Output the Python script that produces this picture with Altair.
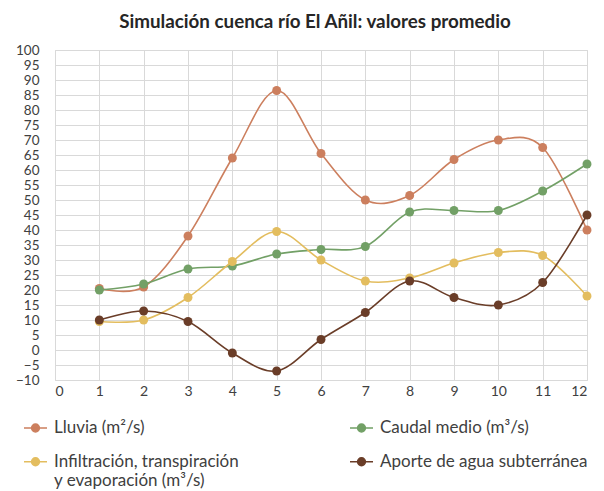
import altair as alt
import pandas as pd

months = [1, 2, 3, 4, 5, 6, 7, 8, 9, 10, 11, 12]
series_names = [
    "Lluvia (m²/s)",
    "Infiltración, transpiración|y evaporación (m³/s)",
    "Caudal medio (m³/s)",
    "Aporte de agua subterránea",
]
lluvia = [20.5, 21, 38, 64, 86.5, 65.5, 50, 51.5, 63.5, 70, 67.5, 40]
caudal = [20, 22, 27, 28, 32, 33.5, 34.5, 46, 46.5, 46.5, 53, 62]
infil = [9.5, 10, 17.5, 29.5, 39.5, 30, 23, 24, 29, 32.5, 31.5, 18]
aporte = [10, 13, 9.5, -1, -7, 3.5, 12.5, 23, 17.5, 15, 22.5, 45]
colors = ["#CC7F5E", "#E3BD5F", "#72A066", "#6A3D28"]

# drawing order: Lluvia, Caudal, Infiltración, Aporte
draw_order = [0, 2, 1, 3]
values = [lluvia, infil, caudal, aporte]

rows = []
for i, (name, vals) in enumerate(zip(series_names, values)):
    for m, v in zip(months, vals):
        rows.append({"mes": m, "valor": v, "serie": name})
df = pd.DataFrame(rows)

FONT = "Lato"
# line with a dot, shifted down to sit on the first text line (labels use top baseline)
sym = "M-1,0.72L1,0.72M0.34,0.72A0.34,0.34,0,1,1,-0.34,0.72A0.34,0.34,0,1,1,0.34,0.72Z"

color = alt.Color(
    "serie:N",
    scale=alt.Scale(domain=series_names, range=colors),
    legend=alt.Legend(
        title=None,
        orient="none",
        legendX=-32,
        legendY=357,
        columns=2,
        columnPadding=108,
        rowPadding=5,
        symbolType=sym,
        symbolSize=529,
        symbolStrokeWidth=1.5,
        labelFont=FONT,
        labelFontSize=17,
        labelBaseline="top",
        labelColor="#404040",
        labelOffset=6,
        labelLimit=300,
        labelExpr="indexof(datum.label, '|') >= 0 ? split(datum.label, '|') : datum.label",
    ),
)

x = alt.X(
    "mes:Q",
    scale=alt.Scale(domain=[0, 12], nice=False),
    axis=alt.Axis(values=list(range(0, 13)), title=None, labelPadding=4, labelOverlap=False),
)
y = alt.Y(
    "valor:Q",
    scale=alt.Scale(domain=[-10, 100], nice=False),
    axis=alt.Axis(values=list(range(-10, 101, 5)), title=None, labelPadding=16,
                  labelOverlap=False, labelFontSize=13.5),
)

layers = []
for i in draw_order:
    name = series_names[i]
    sub = df[df["serie"] == name]
    c = alt.Chart(sub).encode(x=x, y=y, color=color)
    layers.append(c.mark_line(interpolate="cardinal", strokeWidth=1.6))
    layers.append(c.mark_circle(size=80, opacity=1))

chart = alt.layer(*layers).properties(
    width=532,
    height=330,
    title=alt.TitleParams(
        "Simulación cuenca río El Añil: valores promedio",
        font=FONT,
        fontSize=18.8,
        fontWeight="bold",
        color="#262626",
        anchor="middle",
        offset=11,
        dx=-6,
    ),
    autosize=alt.AutoSizeParams(type="none"),
    padding={"left": 47, "top": 42, "right": 9, "bottom": 110},
).configure_axis(
    domain=False,
    ticks=False,
    grid=True,
    gridColor="#D9D9D9",
    gridWidth=1,
    labelFont=FONT,
    labelFontSize=14,
    labelColor="#404040",
).configure_view(stroke="#D9D9D9")

chart.save("out.html", embed_options={"renderer": "svg", "actions": False})
